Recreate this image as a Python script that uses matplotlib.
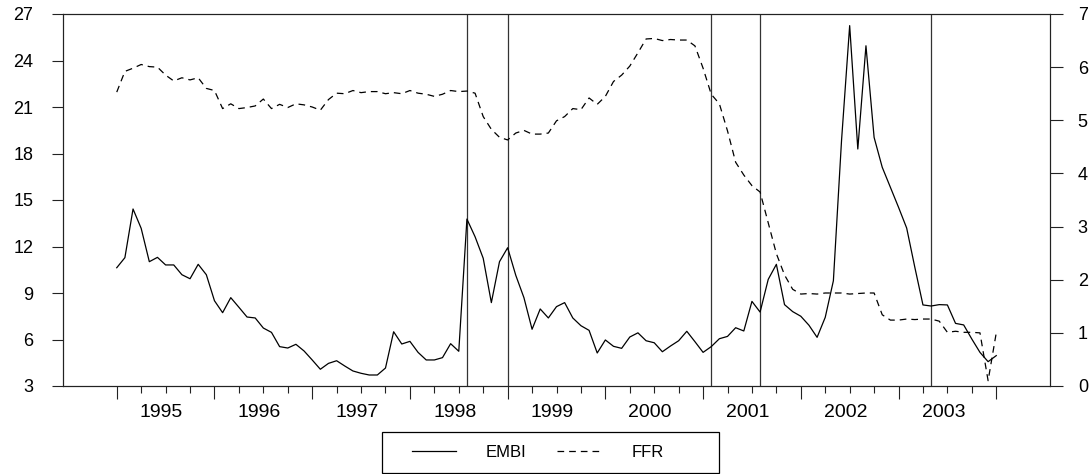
import numpy as np
import matplotlib
matplotlib.use('Agg')
import matplotlib.pyplot as plt
from matplotlib.patches import Rectangle

plt.rcParams['font.family'] = ['Liberation Sans', 'DejaVu Sans']
plt.rcParams['lines.scale_dashes'] = False

# ── data: monthly, 1995m1 .. 2004m1 ──────────────────────
START_YEAR = 1995

embi = [10.63, 11.28, 14.42, 13.17, 11.02, 11.30, 10.81, 10.81, 10.18, 9.92, 10.85, 10.18,   # 1995
        8.50, 7.73, 8.70, 8.08, 7.45, 7.39, 6.74, 6.46, 5.54, 5.45, 5.69, 5.26,             # 1996
        4.68, 4.08, 4.46, 4.63, 4.29, 3.97, 3.82, 3.71, 3.71, 4.16, 6.50, 5.71,             # 1997
        5.88, 5.17, 4.68, 4.68, 4.83, 5.73, 5.24, 13.77, 12.63, 11.24, 8.38, 11.02,         # 1998
        11.92, 10.14, 8.70, 6.66, 7.97, 7.39, 8.12, 8.38, 7.39, 6.89, 6.59, 5.13,           # 1999
        5.97, 5.56, 5.43, 6.16, 6.43, 5.92, 5.79, 5.21, 5.58, 5.92, 6.53, 5.86,             # 2000
        5.17, 5.54, 6.05, 6.20, 6.76, 6.55, 8.46, 7.77, 9.88, 10.85, 8.25, 7.80,            # 2001
        7.50, 6.92, 6.14, 7.43, 9.79, 18.83, 26.25, 18.29, 24.95, 19.04, 17.11, 15.82,      # 2002
        14.53, 13.19, 10.66, 8.23, 8.16, 8.25, 8.23, 7.04, 6.94, 6.03, 5.17, 4.57,          # 2003
        4.96]                                                                               # 2004

ffr = [5.53, 5.92, 5.98, 6.05, 6.01, 6.00, 5.85, 5.74, 5.80, 5.76, 5.80, 5.60,
       5.56, 5.22, 5.31, 5.22, 5.24, 5.27, 5.40, 5.22, 5.30, 5.24, 5.31, 5.29,
       5.25, 5.19, 5.39, 5.51, 5.50, 5.56, 5.52, 5.54, 5.54, 5.50, 5.52, 5.50,
       5.56, 5.51, 5.49, 5.45, 5.49, 5.56, 5.54, 5.55, 5.51, 5.07, 4.83, 4.68,
       4.63, 4.76, 4.81, 4.74, 4.74, 4.76, 4.99, 5.07, 5.22, 5.20, 5.42, 5.30,
       5.45, 5.73, 5.85, 6.02, 6.27, 6.53, 6.54, 6.50, 6.52, 6.51, 6.51, 6.40,
       5.98, 5.49, 5.31, 4.80, 4.21, 3.97, 3.77, 3.65, 3.07, 2.49, 2.09, 1.82,
       1.73, 1.74, 1.73, 1.75, 1.75, 1.75, 1.73, 1.74, 1.75, 1.75, 1.34, 1.24,
       1.24, 1.26, 1.25, 1.26, 1.26, 1.22, 1.01, 1.03, 1.01, 1.01, 1.00, 0.10,
       1.00]

# crisis dates (year, month)
events = [(1998, 8), (1999, 1), (2001, 2), (2001, 8), (2003, 5)]
years = list(range(1995, 2004))


def midx(y, m):
    return (y - START_YEAR) * 12 + (m - 1)


t = np.arange(len(embi))
ev_x = [midx(y, m) for y, m in events]

# ── figure ───────────────────────────────────────────────
W, H = 1089, 474
fig = plt.figure(figsize=(W / 100, H / 100), dpi=100)
fig.patch.set_facecolor('white')
ax = fig.add_axes([63 / W, 1 - 386 / H, (1050 - 63) / W, (386 - 14) / H])
ax2 = ax.twinx()

DASH = (0, (4.8, 3.6))
l1, = ax.plot(t, embi, color='black', lw=0.9)
l2, = ax2.plot(t, ffr, color='black', lw=0.9, ls=DASH)
for x in ev_x:
    ax.axvline(x, color='#333333', lw=0.9, zorder=1)

ax.set_xlim(-6.6, 114.6)
ax.set_ylim(3, 27)
ax.set_yticks(range(3, 28, 3))
ax2.set_ylim(0, 7)
ax2.set_yticks(range(0, 8))

# x ticks: long at year starts, short at quarters, labels mid-year
year_starts = [midx(y, 1) for y in range(1995, 2005)]
quarters = [q for q in range(0, 109, 3) if q % 12 != 0]
ax.set_xticks(year_starts)
ax.set_xticks(quarters, minor=True)
ax.tick_params(axis='x', which='major', length=9, width=0.8, direction='out',
               labelbottom=False, color='#222222')
ax.tick_params(axis='x', which='minor', length=4.8, width=0.8, direction='out',
               color='#222222')
for yr in years:
    ax.text(midx(yr, 1) + 5.5, -0.0825, str(yr), transform=ax.get_xaxis_transform(),
            ha='center', va='baseline', fontsize=14)

ax.tick_params(axis='y', length=8, width=0.8, pad=13.5, labelsize=13, color='#222222')
ax2.tick_params(axis='y', length=9, width=0.8, pad=11, labelsize=13, color='#222222')

for a in (ax, ax2):
    for s in a.spines.values():
        s.set_linewidth(0.8)
        s.set_color('#222222')

# legend
fig.legend([l1, l2], ['EMBI', 'FFR'], ncol=2, frameon=False,
           loc='center left', bbox_to_anchor=(411.7 / W, (H - 452.5) / H),
           borderpad=0, borderaxespad=0, handlelength=2.66,
           handletextpad=1.8, columnspacing=1.82, fontsize=12)
fig.add_artist(Rectangle((382 / W, 1.3 / H), 337 / W, 40.5 / H,
                         transform=fig.transFigure, fill=False,
                         edgecolor='black', lw=0.9))

fig.savefig('out.png', dpi=100, facecolor='white')
plt.close()
